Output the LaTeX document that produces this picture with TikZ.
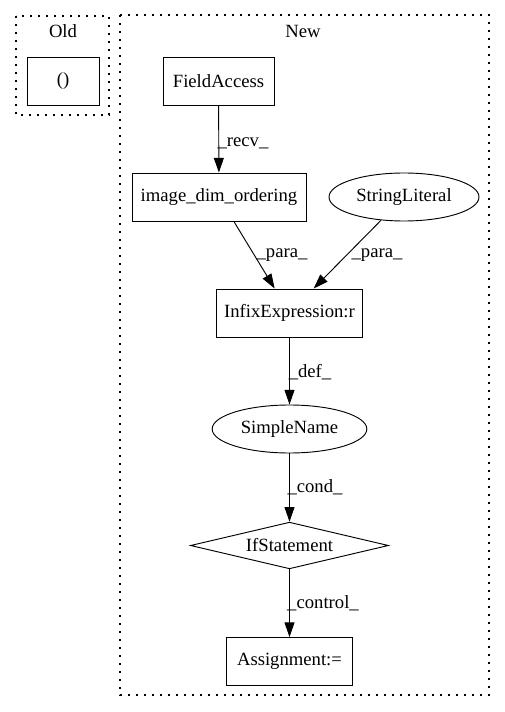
\documentclass[tikz,border=0pt]{standalone}
\usepackage{fontspec}
\setmainfont{Liberation Serif}
\usetikzlibrary{arrows.meta,shapes.geometric}
\tikzset{
  gv/.style={draw, line width=0.7pt, inner sep=0pt, minimum height=36pt, font=\fontsize{14}{16}\selectfont},
  gbox/.style={gv, rectangle},
  gell/.style={gv, ellipse},
  gdia/.style={gv, diamond, aspect=4.2, minimum height=35pt},
  gedge/.style={line width=0.7pt, -{Triangle[length=11pt,width=7.5pt]}},
  glabel/.style={inner sep=0pt, font=\fontsize{14}{16}\selectfont},
  cluster/.style={line width=0.8pt, dash pattern=on 1.2pt off 4.8pt}
}
\begin{document}
\begin{tikzpicture}[x=0.75pt,y=-0.75pt]
\useasboundingbox (0,0) rectangle (505,712);
% clusters
\draw[cluster] (16,16) rectangle (109,115);
\node[glabel] (oldlbl) at (63,31) {Old};
\draw[cluster] (120,15) rectangle (489,695);
\node[glabel] (newlbl) at (303,31) {New};
% nodes
\node[gbox, minimum width=54pt] (paren) at (63,81) {()};
\node[gbox, minimum width=83.25pt] (fa) at (218.5,81) {FieldAccess};
\node[gbox, minimum width=130.5pt] (ido) at (219,197) {image\_dim\_ordering};
\node[gell, minimum width=112.5pt] (sl) at (404,197) {StringLiteral};
\node[gbox, minimum width=110pt] (infix) at (289.5,313) {InfixExpression:r};
\node[gell, minimum width=116pt] (sn) at (289.5,429) {SimpleName};
\node[gdia, minimum width=148.5pt] (ifs) at (289.5,545.5) {IfStatement};
\node[gbox, minimum width=94.5pt] (asg) at (289.5,661.5) {Assignment:=};
% edges
\draw[gedge] (fa) -- (ido);
\draw[gedge] (ido) -- (infix);
\draw[gedge] (sl) -- (infix);
\draw[gedge] (infix) -- (sn);
\draw[gedge] (sn) -- (ifs);
\draw[gedge] (ifs) -- (asg);
% edge labels
\node[glabel] (l1) at (243,143) {\_recv\_};
\node[glabel] (l2) at (282,255) {\_para\_};
\node[glabel] (l3) at (377,255) {\_para\_};
\node[glabel] (l4) at (310,372) {\_def\_};
\node[glabel] (l5) at (315,487) {\_cond\_};
\node[glabel] (l6) at (323,603) {\_control\_};
\end{tikzpicture}
\end{document}
